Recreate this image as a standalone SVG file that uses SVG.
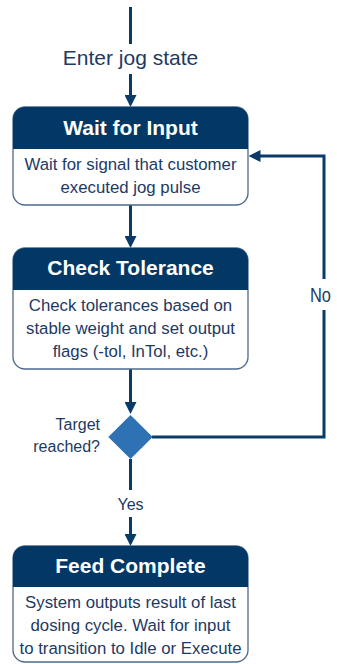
<svg xmlns="http://www.w3.org/2000/svg" width="337" height="664" viewBox="0 0 337 664">
<style>
.box{fill:#ffffff;stroke:#4e6a8c;stroke-width:1.3}
.hdr{fill:#033866}
.ht{font-family:"Liberation Sans",Arial,sans-serif;font-weight:bold;font-size:21px;fill:#ffffff;text-anchor:middle}
.bt{font-family:"Liberation Sans",Arial,sans-serif;font-size:16.8px;fill:#1c3a63;text-anchor:middle}
.lbl{font-family:"Liberation Sans",Arial,sans-serif;fill:#1c3a63}
.con{fill:none;stroke:#0a3a68;stroke-width:3}
</style>
<defs>
<marker id="ah" viewBox="0 0 12 12" markerWidth="12" markerHeight="12" refX="4" refY="6" orient="auto" markerUnits="userSpaceOnUse">
<path d="M0,0 L12,6 L0,12 Z" fill="#0a3a68"/>
</marker>
</defs>
<rect width="337" height="664" fill="#ffffff"/>
<g id="connectors">
<line class="con" x1="130.5" y1="7" x2="130.5" y2="44"/>
<line class="con" x1="130.5" y1="74" x2="130.5" y2="99" marker-end="url(#ah)"/>
<line class="con" x1="130.5" y1="205" x2="130.5" y2="240" marker-end="url(#ah)"/>
<line class="con" x1="130.5" y1="369" x2="130.5" y2="406" marker-end="url(#ah)"/>
<line class="con" x1="130.5" y1="459" x2="130.5" y2="490"/>
<line class="con" x1="130.5" y1="517" x2="130.5" y2="538" marker-end="url(#ah)"/>
<polyline class="con" points="152,437 324,437 324,310"/>
<polyline class="con" points="324,279 324,156 256.5,156" marker-end="url(#ah)"/>
<text class="lbl" x="130.5" y="65" font-size="21" text-anchor="middle">Enter jog state</text>
<text class="lbl" x="310" y="302" font-size="20" textLength="21" lengthAdjust="spacingAndGlyphs">No</text>
<text class="lbl" x="130.5" y="510" font-size="16" text-anchor="middle">Yes</text>
</g>
<g id="wait-for-input">
<rect class="box" x="13" y="107" width="235" height="98" rx="12"/>
<path class="hdr" d="M13,149 V119 A12,12 0 0 1 25,107 H236 A12,12 0 0 1 248,119 V149 Z"/>
<text class="ht" x="130.5" y="135">Wait for Input</text>
<text class="bt" x="130.5" y="170">Wait for signal that customer</text>
<text class="bt" x="130.5" y="193">executed jog pulse</text>
</g>
<g id="check-tolerance">
<rect class="box" x="13" y="248" width="235" height="121" rx="12"/>
<path class="hdr" d="M13,290 V260 A12,12 0 0 1 25,248 H236 A12,12 0 0 1 248,260 V290 Z"/>
<text class="ht" x="130.5" y="275">Check Tolerance</text>
<text class="bt" x="130.5" y="311">Check tolerances based on</text>
<text class="bt" x="130.5" y="334">stable weight and set output</text>
<text class="bt" x="130.5" y="357">flags (-tol, InTol, etc.)</text>
</g>
<g id="target-reached">
<polygon points="130.5,415 152.7,437 130.5,459 108.3,437" fill="#2f72b3"/>
<text class="lbl" x="100" y="430" font-size="16" text-anchor="end">Target</text>
<text class="lbl" x="100" y="452" font-size="16" text-anchor="end">reached?</text>
</g>
<g id="feed-complete">
<rect class="box" x="13" y="546" width="235" height="116" rx="12"/>
<path class="hdr" d="M13,587 V558 A12,12 0 0 1 25,546 H236 A12,12 0 0 1 248,558 V587 Z"/>
<text class="ht" x="130.5" y="573">Feed Complete</text>
<text class="bt" x="130.5" y="608">System outputs result of last</text>
<text class="bt" x="130.5" y="631">dosing cycle. Wait for input</text>
<text class="bt" x="130.5" y="654">to transition to Idle or Execute</text>
</g>
</svg>
